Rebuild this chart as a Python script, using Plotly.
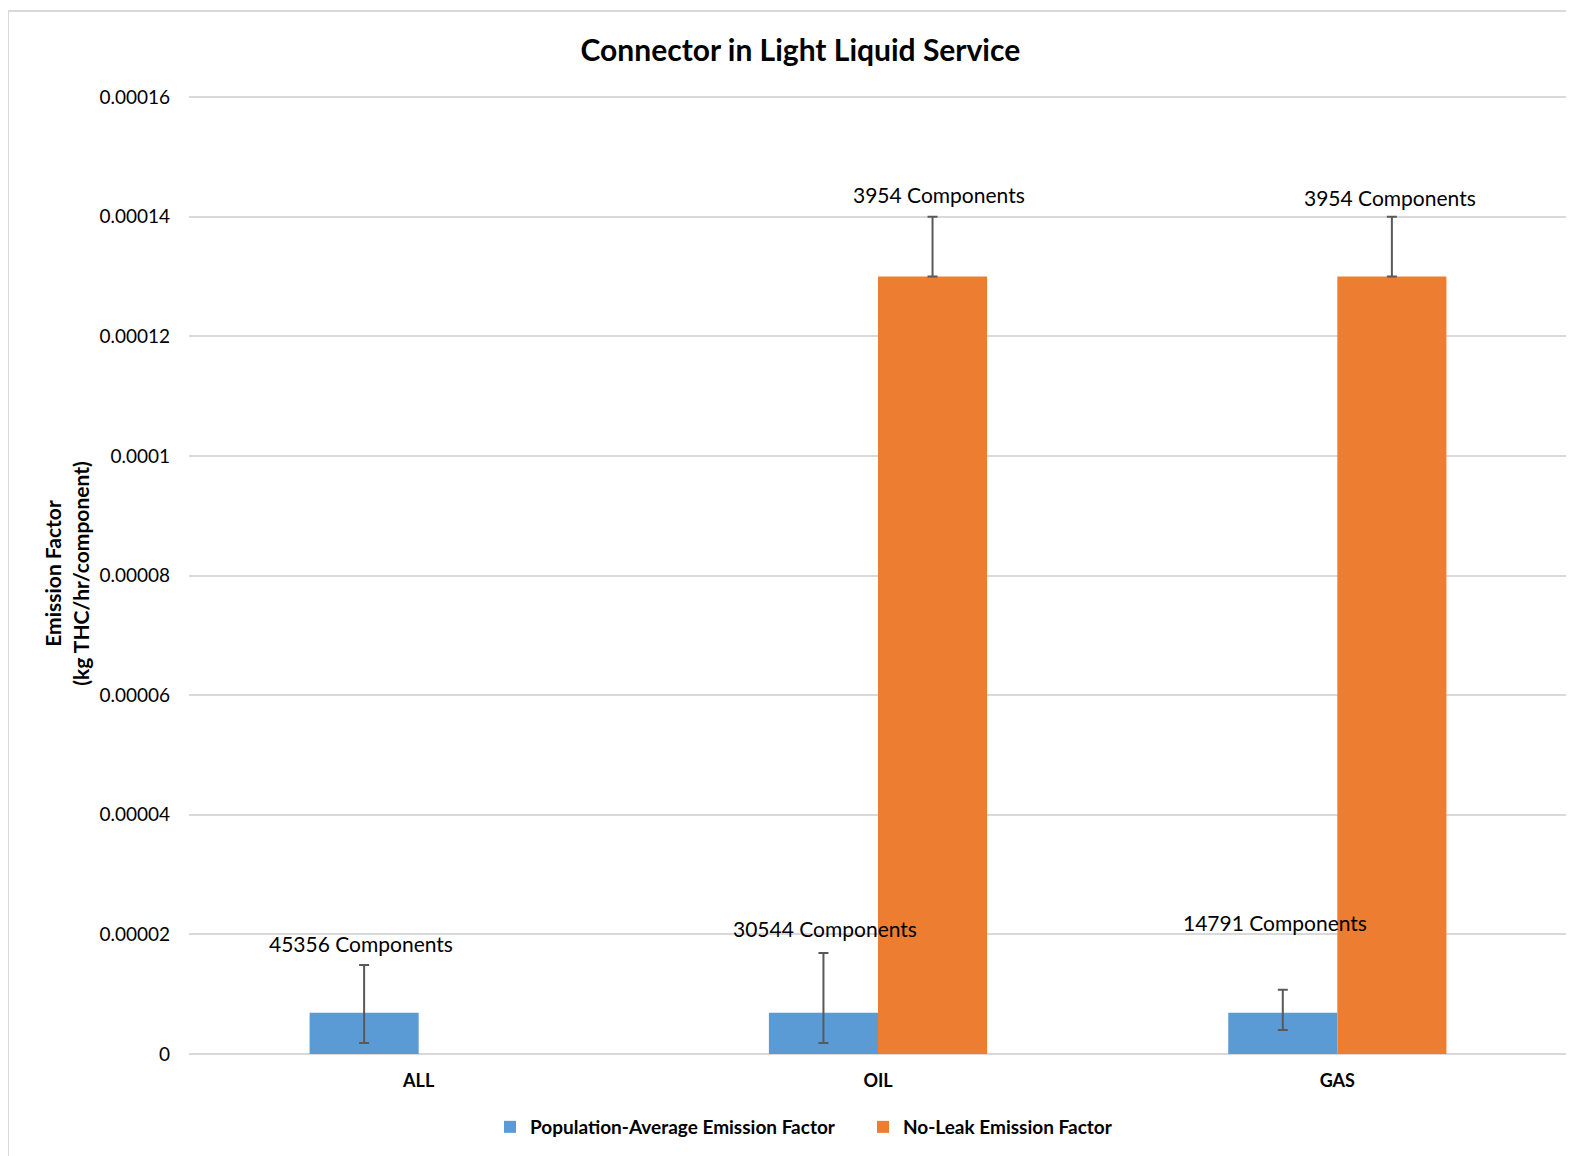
import plotly.graph_objects as go

categories = ["ALL", "OIL", "GAS"]

pop_avg = [6.9e-6, 6.9e-6, 6.9e-6]
pop_upper = [1.49e-5, 1.69e-5, 1.075e-5]
pop_lower = [1.85e-6, 1.85e-6, 4.0e-6]
pop_counts = ["45356 Components", "30544 Components", "14791 Components"]

noleak = [None, 0.00013, 0.00013]
noleak_upper = [None, 0.00014, 0.00014]
noleak_lower = [None, 0.00013, 0.00013]
noleak_counts = [None, "3954 Components", "3954 Components"]

tick_vals = [0, 0.00002, 0.00004, 0.00006, 0.00008, 0.0001, 0.00012, 0.00014, 0.00016]
tick_text = ["0", "0.00002", "0.00004", "0.00006", "0.00008", "0.0001", "0.00012", "0.00014", "0.00016"]

FONT = "Lato"
BLUE = "#5B9BD5"
ORANGE = "#ED7D31"
ERR = "#595959"

def plus(v, u):
    return [None if a is None else b - a for a, b in zip(v, u)]

def minus(v, l):
    return [None if a is None else a - b for a, b in zip(v, l)]

fig = go.Figure()
fig.add_trace(go.Bar(
    x=categories, y=pop_avg, name="Population-Average Emission Factor",
    marker=dict(color=BLUE, line=dict(width=0)),
    error_y=dict(type="data", symmetric=False, array=plus(pop_avg, pop_upper),
                 arrayminus=minus(pop_avg, pop_lower), color=ERR, thickness=2, width=5),
))
fig.add_trace(go.Bar(
    x=categories, y=noleak, name="No-Leak Emission Factor",
    marker=dict(color=ORANGE, line=dict(width=0)),
    error_y=dict(type="data", symmetric=False, array=plus(noleak, noleak_upper),
                 arrayminus=minus(noleak, noleak_lower), color=ERR, thickness=2, width=5),
))

bar_px = 54
pop_shift = [21, 24, 67]
nl_shift = [0, 22, 19]
pop_xs = [-4, 1, -8]
nl_xs = [0, 7, -1]
for i, c in enumerate(categories):
    fig.add_annotation(x=c, y=pop_upper[i], xref="x", yref="y", text=pop_counts[i],
                       showarrow=False, xshift=-bar_px + pop_xs[i], yshift=pop_shift[i],
                       font=dict(family=FONT, size=21, color="#000000"))
    if noleak_counts[i]:
        fig.add_annotation(x=c, y=noleak_upper[i], xref="x", yref="y", text=noleak_counts[i],
                           showarrow=False, xshift=bar_px + nl_xs[i], yshift=nl_shift[i],
                           font=dict(family=FONT, size=21, color="#000000"))

W, H = 1566, 1148
L, R, T, B = 181, 7, 85, 102
PW, PH = W - L - R, H - T - B
TOP_EXTRA = 4

fig.add_shape(type="rect", xref="paper", yref="paper",
              x0=-L / PW, x1=1.02, y0=-0.2, y1=1 + (T - 3) / PH,
              line=dict(color="#D9D9D9", width=2), layer="below")

fig.update_layout(
    width=W, height=H,
    margin=dict(l=L, r=R, t=T, b=B),
    paper_bgcolor="white", plot_bgcolor="white",
    barmode="group", bargap=0.525, bargroupgap=0,
    title=dict(text="<b>Connector in Light Liquid Service</b>", x=0.506, xanchor="center",
               y=1 - 42 / H, yanchor="middle",
               font=dict(family=FONT, size=30, color="#000000")),
    font=dict(family=FONT, color="#000000"),
    xaxis=dict(tickfont=dict(family=FONT, size=18, color="#000000", weight="bold"),
               showline=False, showgrid=False, ticks="", ticklabelstandoff=14),
    yaxis=dict(range=[0, 0.00016 * PH / (PH - TOP_EXTRA)], tickvals=tick_vals, ticktext=tick_text,
               tickfont=dict(family=FONT, size=19, color="#000000"),
               showgrid=True, gridcolor="#D9D9D9", gridwidth=1.5,
               zeroline=True, zerolinecolor="#D9D9D9", zerolinewidth=2,
               ticks="", ticklabelstandoff=18,
               title=dict(text="<b>Emission Factor<br>(kg THC/hr/component)</b>",
                          font=dict(family=FONT, size=21, color="#000000"), standoff=4)),
    legend=dict(orientation="h", x=(482 - L) / PW, xanchor="left", y=-73 / PH, yanchor="middle",
                font=dict(family=FONT, size=19, color="#000000", weight="bold"),
                itemsizing="constant", entrywidth=328, entrywidthmode="pixels"),
)

fig.write_html("out.html")
